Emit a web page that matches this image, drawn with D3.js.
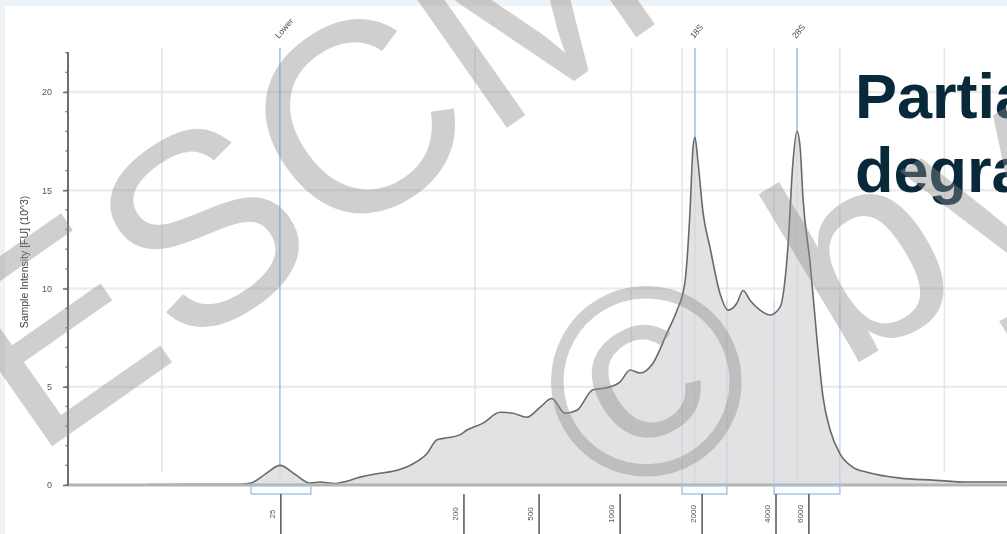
<!DOCTYPE html>
<html>
<head>
<meta charset="utf-8">
<script src="https://cdn.jsdelivr.net/npm/d3@7/dist/d3.min.js"></script>
<style>
  html, body { margin: 0; padding: 0; background: #eef3f7; }
  svg { display: block; }
  text { font-family: "Liberation Sans", Arial, sans-serif; }
</style>
</head>
<body>
<svg id="chart" width="1007" height="534"></svg>
<script>
// Electropherogram trace: migration time (s) and fluorescence (FU x 10^3)
const traceSec = [19.5, 21.0, 22.5, 22.85, 23.3, 23.77, 24.25, 24.73, 25.05, 25.53, 25.79, 26.33, 26.97,
  27.38, 27.93, 28.47, 28.79, 29.11, 29.52, 29.75, 30.26, 30.8, 31.22, 31.66, 32.08, 32.46, 32.88,
  33.26, 33.77, 34.22, 34.64, 34.96, 35.27, 35.69, 36.14, 36.46, 36.71, 36.87, 36.97, 37.03, 37.13,
  37.29, 37.51, 37.83, 38.09, 38.37, 38.57, 38.79, 39.11, 39.43, 39.75, 40.0, 40.16, 40.29, 40.39,
  40.48, 40.71, 40.93, 41.12, 41.35, 41.66, 42.08, 42.53, 43.58, 44.64, 45.72, 47.0];
const traceFU = [0.02, 0.03, 0.04, 0.1, 0.55, 1.0, 0.55, 0.1, 0.15, 0.08, 0.15, 0.4, 0.6,
  0.7, 1.0, 1.6, 2.3, 2.4, 2.55, 2.8, 3.15, 3.7, 3.65, 3.45, 3.95, 4.4, 3.65,
  3.8, 4.85, 4.95, 5.25, 5.85, 5.7, 6.2, 7.75, 8.9, 10.3, 13.85, 17.2, 17.7, 16.4,
  13.85, 12.1, 9.75, 8.9, 9.25, 9.9, 9.4, 8.9, 8.65, 9.05, 12.1, 16.4, 18.0, 17.2,
  14.65, 11.3, 7.4, 4.5, 2.8, 1.6, 0.9, 0.65, 0.35, 0.25, 0.15, 0.15];

// Size ladder: nucleotide lengths and their migration times
const ladderNt = [25, 200, 500, 1000, 2000, 4000, 6000];
const ladderSec = [23.8, 29.65, 32.05, 34.64, 37.26, 39.62, 40.67];

// Identified peaks and their integration regions
const peakNames = ["Lower", "18S", "28S"];
const peakSec = [23.77, 37.03, 40.29];
const regionStart = [22.85, 36.62, 39.56];
const regionEnd = [24.76, 38.05, 41.66];

// Grid and axis ticks
const gridSec = [20, 30, 35, 45];
const yTicks = [0, 5, 10, 15, 20];

const titleLines = ["Partial", "degradation"];

const svg = d3.select("#chart");
const W = 1007, H = 534;

const x = d3.scaleLinear().domain([17, 47]).range([68, 1007]);
const y = d3.scaleLinear().domain([0, 22]).range([485, 52.7]);

const defs = svg.append("defs");
defs.append("filter").attr("id", "soft")
  .append("feGaussianBlur").attr("stdDeviation", 0.55);

// white plotting panel
svg.append("rect").attr("x", 5).attr("y", 6).attr("width", W - 5).attr("height", H - 6).attr("fill", "#ffffff");

const g = svg.append("g").attr("filter", "url(#soft)");

// grid
g.append("g").selectAll("line").data(yTicks.filter(d => d > 0)).join("line")
  .attr("x1", x(17)).attr("x2", W).attr("y1", d => y(d)).attr("y2", d => y(d))
  .attr("stroke", "#ececec").attr("stroke-width", 2.5);
g.append("g").selectAll("line").data(gridSec).join("line")
  .attr("x1", d => x(d)).attr("x2", d => x(d)).attr("y1", 48).attr("y2", 472)
  .attr("stroke", "#e6e6e6").attr("stroke-width", 1.6);

// region boundary guides
const bounds = regionStart.slice(1).concat(regionEnd.slice(1));
g.append("g").selectAll("line").data(bounds).join("line")
  .attr("x1", d => x(d)).attr("x2", d => x(d)).attr("y1", 48).attr("y2", y(0))
  .attr("stroke", "#d6e4f3").attr("stroke-width", 1.3);

// peak marker lines
g.append("g").selectAll("line").data(peakSec).join("line")
  .attr("x1", d => x(d)).attr("x2", d => x(d)).attr("y1", 48).attr("y2", y(0))
  .attr("stroke", "#9cc4ea").attr("stroke-width", 1.6);

// trace
const pts = traceSec.map((t, i) => [t, traceFU[i]]);
const area = d3.area().x(d => x(d[0])).y0(y(0)).y1(d => y(d[1])).curve(d3.curveMonotoneX);
const line = d3.line().x(d => x(d[0])).y(d => y(d[1])).curve(d3.curveMonotoneX);
g.append("path").datum(pts).attr("d", area).attr("fill", "#dedede").attr("fill-opacity", 0.88);

// region guides inside the filled area
g.append("g").selectAll("line").data(bounds).join("line")
  .attr("x1", d => x(d)).attr("x2", d => x(d)).attr("y1", 300).attr("y2", y(0))
  .attr("stroke", "#b9d2ee").attr("stroke-width", 1.3).attr("opacity", 0.7);

g.append("path").datum(pts).attr("d", line).attr("fill", "none")
  .attr("stroke", "#6a6a6a").attr("stroke-width", 1.6);

// x baseline
g.append("line").attr("x1", x(17)).attr("x2", W).attr("y1", y(0)).attr("y2", y(0))
  .attr("stroke", "#b4b4b4").attr("stroke-width", 3);

// region boxes under baseline
g.append("g").selectAll("rect").data(regionStart).join("rect")
  .attr("x", d => x(d)).attr("y", y(0) + 1)
  .attr("width", (d, i) => x(regionEnd[i]) - x(d)).attr("height", 8)
  .attr("fill", "#fbfdff").attr("stroke", "#a6c7ea").attr("stroke-width", 1.5);

// y axis
const yAxis = d3.axisLeft(y).tickValues(yTicks).tickSize(5).tickPadding(11);
const ya = g.append("g").attr("transform", `translate(${x(17)},0)`).call(yAxis);
ya.select(".domain").attr("stroke", "#6e6e6e").attr("stroke-width", 2).attr("d", `M0,${y(22)}V${y(0)}`);
ya.selectAll(".tick line").attr("stroke", "#6e6e6e").attr("stroke-width", 1.5);
ya.selectAll(".tick text").attr("fill", "#555").attr("font-size", 9).attr("font-family", "Liberation Sans, Arial");
g.append("g").selectAll("line").data(d3.range(0, 23)).join("line")
  .attr("x1", x(17) - 2.5).attr("x2", x(17) + 1).attr("y1", d => y(d)).attr("y2", d => y(d))
  .attr("stroke", "#6e6e6e").attr("stroke-width", 1.3);

g.append("text").attr("transform", "translate(28,262) rotate(-90)")
  .attr("text-anchor", "middle").attr("font-size", 10.5).attr("fill", "#444")
  .text("Sample Intensity [FU] (10^3)");

// ladder ticks and labels under the axis
const lad = g.append("g").selectAll("g").data(ladderNt).join("g")
  .attr("transform", (d, i) => `translate(${x(ladderSec[i])},0)`);
lad.append("line").attr("y1", y(0) + 9).attr("y2", H).attr("stroke", "#555").attr("stroke-width", 1.5);
lad.append("text").attr("transform", `translate(-6,514) rotate(-90)`)
  .attr("text-anchor", "middle").attr("font-size", 8).attr("fill", "#555")
  .text(d => d);

// peak names above marker lines
g.append("g").selectAll("text").data(peakNames).join("text")
  .attr("transform", (d, i) => `translate(${x(peakSec[i]) - 1},39) rotate(-50)`)
  .attr("font-size", 8.5).attr("fill", "#444").text(d => d);

// title
svg.append("g").selectAll("text").data(titleLines).join("text")
  .attr("x", 855).attr("y", (d, i) => 118 + i * 74)
  .attr("font-size", 63).attr("font-weight", "bold").attr("fill", "#07293a")
  .text(d => d);

// watermark
const wm = svg.append("g").attr("fill", "#8c8c8c").attr("fill-opacity", 0.42);
wm.append("text").attr("transform", "translate(34,459) rotate(-35)")
  .attr("font-size", 270).text("ESCMID");
wm.append("text").attr("transform", "translate(645,380) rotate(-31)")
  .attr("x", -99).attr("y", 95).attr("font-size", 270).text("\u00A9 by author");
</script>
</body>
</html>
